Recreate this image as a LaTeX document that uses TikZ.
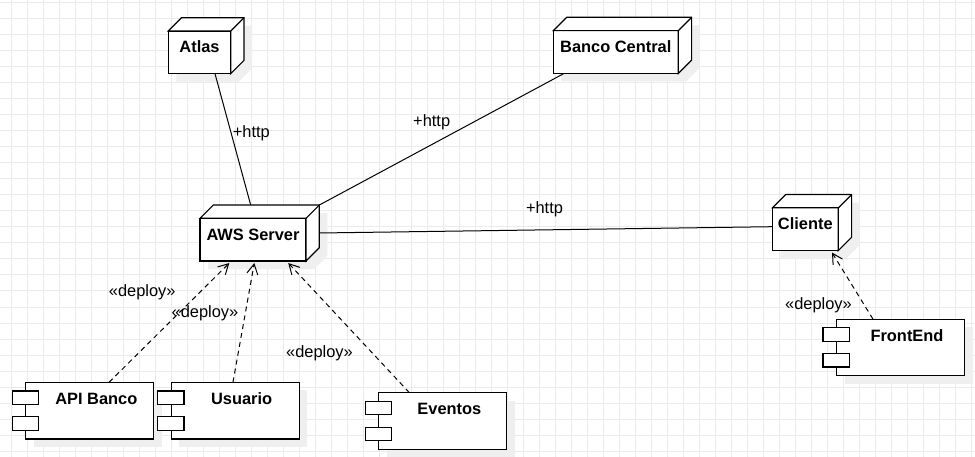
\documentclass[tikz,border=0pt]{standalone}
\usepackage{fontspec}
\setmainfont{Liberation Sans}
\usetikzlibrary{arrows.meta,calc}
\pgfdeclarelayer{bg}
\pgfdeclarelayer{shade}
\pgfsetlayers{bg,shade,main}
\definecolor{gridc}{HTML}{EBEBEB}
\definecolor{shadec}{HTML}{EFEFEF}
\newcommand\boldlbl{\fontsize{16.4}{19}\selectfont\bfseries}
\newcommand\plainlbl{\fontsize{16.4}{19}\selectfont}
\tikzset{
  boxline/.style={line width=1.2pt},
  cubebox/.style={draw, fill=white, boxline, inner sep=0pt, outer sep=0pt, font=\boldlbl,
    minimum width=#1, text height=22pt, text depth=20.7pt},
  compbox/.style={draw, fill=white, boxline, inner sep=0pt, outer sep=0pt, font=\boldlbl,
    minimum width=128pt, text height=22pt, text depth=34.7pt},
  lbl/.style={font=\plainlbl, inner sep=0pt},
  conn/.style={line width=1pt},
  dep/.style={line width=1pt, dash pattern=on 5pt off 4pt,
    -{Straight Barb[length=10pt,width=11pt,line width=1pt]}},
}
\begin{document}
\begin{tikzpicture}[x=1pt,y=-1pt]
\useasboundingbox (0,0) rectangle (975,457);
\begin{pgfonlayer}{bg}
  \fill[white] (0,0) rectangle (975,457);
  \foreach \i in {0,...,60} \draw[gridc, line width=1pt] (11.5+16*\i,0) -- (11.5+16*\i,457);
  \foreach \j in {0,...,28} \draw[gridc, line width=1pt] (0,3+16*\j) -- (975,3+16*\j);
\end{pgfonlayer}

% deployment nodes (3D boxes)
\node[cubebox=62.4pt] (atlas) at (199.5,52.35) {Atlas};
\node[cubebox=125pt] (banco) at (615.8,52.0) {Banco Central};
\node[cubebox=106pt] (aws) at (253,239.7) {AWS Server};
\node[cubebox=66pt] (cliente) at (805.3,229.2) {Cliente};

\foreach \n in {atlas,banco,aws,cliente}{
  \draw[boxline, fill=white] (\n.north west) -- ++(13.3,-13.3)
    -- ([shift={(13.3,-13.3)}]\n.north east) -- ([shift={(13.3,-13.3)}]\n.south east)
    -- (\n.south east) -- (\n.north east) -- cycle;
  \draw[boxline] (\n.north east) -- ++(13.3,-13.3);
}

% components
\node[compbox] (api) at (89.85,410.65) {\hspace*{13pt}API Banco};
\node[compbox] (usuario) at (235.15,410.65) {\hspace*{13pt}Usuario};
\node[compbox] (eventos) at (442.85,421) {\hspace*{13pt}Eventos};
\node[compbox] (frontend) at (900.5,347.5) {\hspace*{13pt}FrontEnd};

\foreach \n in {api,usuario,eventos,frontend}{
  \draw[boxline, fill=white] ([shift={(-13.5,8.7)}]\n.north west) rectangle ++(26.3,13.3);
  \draw[boxline, fill=white] ([shift={(-13.5,34.5)}]\n.north west) rectangle ++(26.3,13.3);
}

% shadows
\begin{pgfonlayer}{shade}
  \foreach \n in {atlas,banco,aws,cliente}{
    \fill[shadec] ([shift={(8,8)}]\n.south west) -- ([shift={(8,8)}]\n.north west)
      -- ([shift={(21.3,-5.3)}]\n.north west) -- ([shift={(21.3,-5.3)}]\n.north east)
      -- ([shift={(21.3,-5.3)}]\n.south east) -- ([shift={(8,8)}]\n.south east) -- cycle;
  }
  \foreach \n in {api,usuario,eventos,frontend}{
    \fill[shadec] ([shift={(8,8)}]\n.north west) rectangle ([shift={(8,8)}]\n.south east);
  }
\end{pgfonlayer}

% communication paths
\draw[conn] ([shift={(15.5,0)}]atlas.south) -- ([shift={(-2.3,-13.3)}]aws.north);
\draw[conn] ([shift={(-52.5,0.5)}]banco.south) -- ([shift={(13.3,-13.3)}]aws.north east);
\draw[conn] ([shift={(13.3,-6.7)}]aws.east) -- ([shift={(0,-2.5)}]cliente.west);

% deploy dependencies
\draw[dep] ([shift={(19.2,0)}]api.north) -- ([shift={(-23.7,2)}]aws.south);
\draw[dep] ([shift={(-2.2,0)}]usuario.north) -- ([shift={(1.3,2)}]aws.south);
\draw[dep] ([shift={(-33.5,0)}]eventos.north) -- ([shift={(35.3,2)}]aws.south);
\draw[dep] ([shift={(-27.5,0)}]frontend.north) -- ([shift={(26.7,2)}]cliente.south);

% labels
\node[lbl] (h1) at (251.3,133.5) {+http};
\node[lbl] (h2) at (431.7,122) {+http};
\node[lbl] (h3) at (544.5,209) {+http};
\node[lbl] (d1) at (142.2,292.7) {«deploy»};
\node[lbl] (d2) at (205,313.3) {«deploy»};
\node[lbl] (d3) at (319.5,353.3) {«deploy»};
\node[lbl] (d4) at (818.5,305) {«deploy»};
\end{tikzpicture}
\end{document}
